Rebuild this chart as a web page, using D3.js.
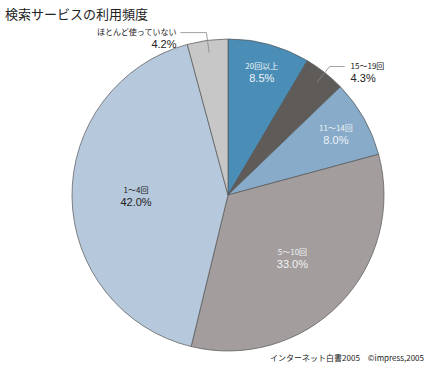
<!DOCTYPE html>
<html><head><meta charset="utf-8">
<script src="https://cdn.jsdelivr.net/npm/d3@7"></script>
<style>body{margin:0;background:#fff}svg{display:block}text{font-family:"Noto Sans CJK JP","Noto Sans",sans-serif}text.pct{font-family:"Liberation Sans",Arial,sans-serif}</style>
</head><body>
<svg id="c" width="427" height="367"></svg>
<script>
const categories = ["20回以上","15～19回","11～14回","5～10回","1～4回","ほとんど使っていない"];
const values = [8.5, 4.3, 8.0, 33.0, 42.0, 4.2];
const valueLabels = ["8.5%","4.3%","8.0%","33.0%","42.0%","4.2%"];
const colors = ["#4a8db6","#5f5b59","#87abc9","#a39e9d","#b6c8dc","#c7c7c7"];
const title = "検索サービスの利用頻度";
const source = "インターネット白書2005　©impress,2005";

// layout
const cx = 228, cy = 195, R = 156;
const inside = [true,false,true,true,true,false];
const labelR = [128,0,124,90,92,0];
const textFill = ["#eef4f8","#222","#eef4f8","#f2f2f2","#222","#222"];

const svg = d3.select("#c");
const g = svg.append("g").attr("transform",`translate(${cx},${cy})`);
const pie = d3.pie().sort(null).value(d=>d)(values);
const arc = d3.arc().innerRadius(0).outerRadius(R);

g.selectAll("path.s").data(pie).join("path")
  .attr("d",arc).attr("fill",(d,i)=>colors[i])
  .attr("stroke","#555").attr("stroke-width",0.7).attr("stroke-linejoin","round");

pie.forEach((d,i)=>{
  if(!inside[i]) return;
  const a = (d.startAngle+d.endAngle)/2;
  const x = Math.sin(a)*labelR[i], y = -Math.cos(a)*labelR[i];
  g.append("text").attr("x",x).attr("y",y-3).attr("text-anchor","middle")
    .attr("font-size",8).attr("fill",textFill[i]).text(categories[i]);
  g.append("text").attr("class","pct").attr("x",x).attr("y",y+10).attr("text-anchor","middle")
    .attr("font-size",11).attr("fill",textFill[i]).text(valueLabels[i]);
});

// outside labels with leader lines
function outside(i, side){
  const d = pie[i];
  const a = (d.startAngle+d.endAngle)/2;
  const r0 = R*0.92, r1 = R*1.05;
  const x0 = Math.sin(a)*r0, y0 = -Math.cos(a)*r0;
  const x1 = Math.sin(a)*r1, y1 = -Math.cos(a)*r1;
  const x2 = side>0 ? x1+15 : x1-26;
  g.append("path").attr("d",`M${x0},${y0}L${x1},${y1}H${x2}`)
    .attr("fill","none").attr("stroke","#888").attr("stroke-width",0.8);
  const tx = side>0 ? x2+6 : x2-4;
  const anchor = side>0 ? "start" : "end";
  g.append("text").attr("x",tx).attr("y",y1+2).attr("text-anchor",anchor)
    .attr("font-size",8).attr("fill","#222").text(categories[i]);
  g.append("text").attr("class","pct").attr("x",tx).attr("y",y1+15).attr("text-anchor",anchor)
    .attr("font-size",11).attr("fill","#222").text(valueLabels[i]);
}
outside(1,1);
outside(5,-1);

svg.append("text").attr("x",5).attr("y",19).attr("font-size",13).attr("fill","#222").text(title);
svg.append("text").attr("x",424).attr("y",361).attr("text-anchor","end").attr("font-size",8).attr("fill","#222").text(source);
</script>
</body></html>
